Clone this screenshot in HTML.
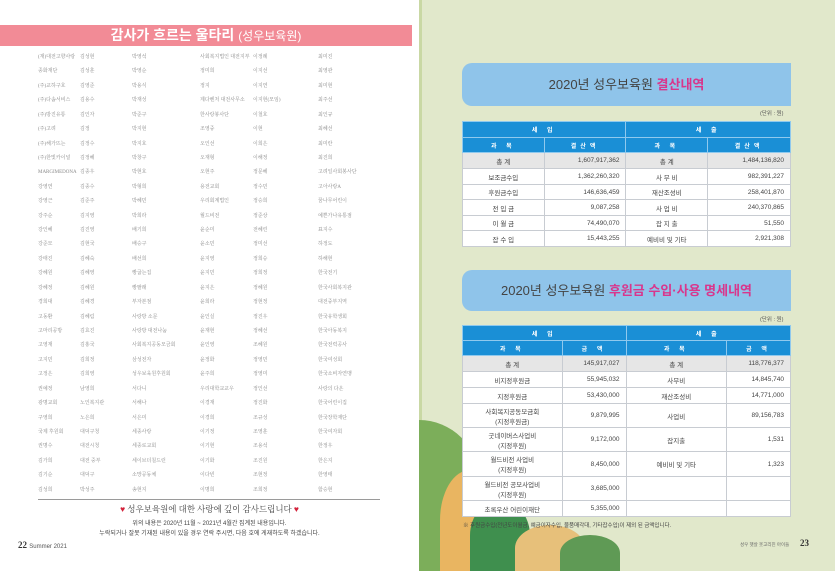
<!DOCTYPE html>
<html><head><meta charset="utf-8"><style>
*{margin:0;padding:0;box-sizing:border-box}
body{width:835px;height:571px;overflow:hidden;position:relative;font-family:"Liberation Sans","Noto Sans CJK KR",sans-serif;background:#fff}
.abs{position:absolute}
#right{left:419px;top:0;width:416px;height:571px;background:#e1e8cb}
.title{position:absolute;left:0;top:25px;width:412px;height:21px;background:#f28b96;color:#fff;text-align:center;font-size:14px;line-height:21px;font-weight:bold}
.title span{font-weight:normal;font-size:12px}
.grid{position:absolute;left:38px;top:51px;width:380px;font-family:"Liberation Serif","Noto Serif CJK SC",serif;font-size:5px;color:#8a8a8a}
.row{height:14.43px;line-height:14.43px;position:relative;white-space:nowrap}
.row span{position:absolute}
.row span:nth-child(1){left:0}.row span:nth-child(2){left:42px}.row span:nth-child(3){left:94px}.row span:nth-child(4){left:162px}.row span:nth-child(5){left:215px}.row span:nth-child(6){left:280px}
.banner{position:absolute;left:462px;width:329px;background:#8fc4ea;border-radius:10px 0 0 10px;color:#444;font-size:13px;text-align:center}
.banner b{color:#d9368c;font-weight:bold}
table{position:absolute;border-collapse:collapse;font-size:6.5px;color:#444;background:#fff}
td{border:1px solid #c8ccd2;padding:0 6px}
th{background:#1a8fd6;color:#fff;font-weight:bold;border:1px solid #8fc9ee;font-size:6px;letter-spacing:4px}
.tot td{background:#e6e6e6}
.n{text-align:right}.c{text-align:center}
</style></head><body>
<div class="title">감사가 흐르는 울타리 <span>(성우보육원)</span></div>
<div class="grid">
<div class="row"><span>(재)대전고향사랑</span><span>김성현</span><span>박영석</span><span>사회복지법인 대전지부</span><span>이정례</span><span>최미진</span></div>
<div class="row"><span>종화재단</span><span>김성훈</span><span>박영순</span><span>정미희</span><span>이지선</span><span>최영관</span></div>
<div class="row"><span>(주)교하구호</span><span>김영준</span><span>박용식</span><span>정지</span><span>이지연</span><span>최미현</span></div>
<div class="row"><span>(주)다솜서비스</span><span>김용수</span><span>박재성</span><span>제다벤처 대전사무소</span><span>이지현(모임)</span><span>최주선</span></div>
<div class="row"><span>(주)방진유통</span><span>김인자</span><span>박준구</span><span>한사랑봉사단</span><span>이철호</span><span>최인규</span></div>
<div class="row"><span>(주)고려</span><span>김정</span><span>박지현</span><span>조영중</span><span>이현</span><span>최혜선</span></div>
<div class="row"><span>(주)해가뜨는</span><span>김정수</span><span>박지호</span><span>오인선</span><span>이희은</span><span>최미란</span></div>
<div class="row"><span>(주)한빛카이널</span><span>김정혜</span><span>박창구</span><span>오재형</span><span>이해정</span><span>최진희</span></div>
<div class="row"><span>MARGIMEDONA</span><span>김종우</span><span>박현호</span><span>오현주</span><span>정문혜</span><span>고려일사회봉사단</span></div>
<div class="row"><span>강영연</span><span>김종수</span><span>박형희</span><span>용전교회</span><span>정수민</span><span>고아사랑A</span></div>
<div class="row"><span>강영근</span><span>김준주</span><span>박혜민</span><span>우리회계법인</span><span>정승희</span><span>꿈나무어린이</span></div>
<div class="row"><span>강주순</span><span>김지영</span><span>박희라</span><span>월드비전</span><span>정준상</span><span>예쁜가나유통점</span></div>
<div class="row"><span>강인혜</span><span>김진영</span><span>배기희</span><span>윤순미</span><span>전혜린</span><span>표지수</span></div>
<div class="row"><span>강준모</span><span>김현국</span><span>배승구</span><span>윤소민</span><span>정미선</span><span>하정도</span></div>
<div class="row"><span>강태진</span><span>김혜숙</span><span>배선희</span><span>윤지영</span><span>정희승</span><span>하해현</span></div>
<div class="row"><span>강혜원</span><span>김혜영</span><span>빵굽는집</span><span>윤지민</span><span>정희정</span><span>한국전기</span></div>
<div class="row"><span>강혜정</span><span>김혜원</span><span>빵팔래</span><span>윤지은</span><span>정혜원</span><span>한국사회복지관</span></div>
<div class="row"><span>경희대</span><span>김혜경</span><span>부자본점</span><span>윤희라</span><span>정현정</span><span>대전중부지역</span></div>
<div class="row"><span>고동환</span><span>김혜림</span><span>사랑방 소문</span><span>윤인실</span><span>정진우</span><span>한국유학생회</span></div>
<div class="row"><span>고마리공방</span><span>김효진</span><span>사랑방 대전나눔</span><span>윤재현</span><span>정혜선</span><span>한국아동복지</span></div>
<div class="row"><span>고영재</span><span>김홍국</span><span>사회복지공동모금회</span><span>윤인영</span><span>조혜원</span><span>한국전력공사</span></div>
<div class="row"><span>고지민</span><span>김희정</span><span>삼성전자</span><span>윤정화</span><span>정영민</span><span>한국여성회</span></div>
<div class="row"><span>고정은</span><span>김희영</span><span>성우보육원후원회</span><span>윤주희</span><span>정영미</span><span>한국소비자연맹</span></div>
<div class="row"><span>권예정</span><span>남영희</span><span>서다니</span><span>우리대학교교우</span><span>정인선</span><span>사랑의 다온</span></div>
<div class="row"><span>광명교회</span><span>노인복지관</span><span>서해나</span><span>이경재</span><span>정진화</span><span>한국어린이집</span></div>
<div class="row"><span>구영희</span><span>노은희</span><span>서은미</span><span>이경희</span><span>조규성</span><span>한국장학재단</span></div>
<div class="row"><span>국제 후원회</span><span>대덕구청</span><span>세종사랑</span><span>이기정</span><span>조영훈</span><span>한국여자회</span></div>
<div class="row"><span>권명수</span><span>대전시청</span><span>세종로교회</span><span>이기현</span><span>조용석</span><span>한정우</span></div>
<div class="row"><span>김가희</span><span>대전 중부</span><span>세이브더칠드런</span><span>이기화</span><span>조진원</span><span>한은지</span></div>
<div class="row"><span>김기순</span><span>대덕구</span><span>소망공동체</span><span>이다빈</span><span>조현정</span><span>한영태</span></div>
<div class="row"><span>김성희</span><span>박성주</span><span>송현지</span><span>이명희</span><span>조희정</span><span>함승현</span></div>
</div>
<div class="abs" style="left:38px;top:499px;width:342px;height:1px;background:#9a9a9a"></div>
<div class="abs" style="left:0;top:503px;width:419px;text-align:center;font-size:8.5px;color:#444;font-family:'Liberation Serif','Noto Serif CJK SC',serif"><span style="color:#d3213a">♥</span> 성우보육원에 대한 사랑에 깊이 감사드립니다 <span style="color:#d3213a">♥</span></div>
<div class="abs" style="left:0;top:518px;width:419px;text-align:center;font-size:6px;color:#444">위의 내용은 2020년 11월 ~ 2021년 4월간 집계된 내용입니다.</div>
<div class="abs" style="left:0;top:528px;width:419px;text-align:center;font-size:6px;color:#444">누락되거나 잘못 기재된 내용이 있을 경우 연락 주시면, 다음 호에 게재하도록 하겠습니다.</div>
<div class="abs" style="left:18px;top:540px;font-size:9px;color:#333;font-family:'Liberation Serif',serif;font-weight:bold">22 <span style="font-family:'Liberation Sans';font-weight:normal;font-size:6px;color:#555">Summer 2021</span></div>

<div id="right" class="abs"></div>
<div class="abs" style="left:419px;top:0;width:3px;height:571px;background:#c9d8a4"></div>
<div class="abs" style="left:419px;top:420px;width:60px;height:151px;background:#7cae5a;border-radius:0 60px 0 0"></div>
<div class="abs" style="left:440px;top:470px;width:60px;height:101px;background:#e9b561;border-radius:50% 50% 0 0"></div>
<div class="abs" style="left:470px;top:500px;width:60px;height:71px;background:#3f8f4e;border-radius:50% 50% 0 0"></div>
<div class="abs" style="left:515px;top:525px;width:70px;height:46px;background:#e7c07a;border-radius:50% 50% 0 0"></div>
<div class="abs" style="left:560px;top:535px;width:60px;height:36px;background:#5f9a55;border-radius:50% 50% 0 0"></div>

<div class="banner" style="top:63px;height:43px;line-height:43px">2020년 성우보육원 <b>결산내역</b></div>
<div class="abs" style="left:760px;top:109px;font-size:5.5px;color:#555">(단위 : 원)</div>
<table style="left:462px;top:121px;width:329px">
<colgroup><col style="width:82px"><col style="width:82px"><col style="width:82px"><col style="width:83px"></colgroup>
<tr style="height:16px"><th colspan="2">세 입</th><th colspan="2">세 출</th></tr>
<tr style="height:15px"><th>과 목</th><th>결산액</th><th>과 목</th><th>결산액</th></tr>
<tr class="tot" style="height:16px"><td class="c">총 계</td><td class="n">1,607,917,362</td><td class="c">총 계</td><td class="n">1,484,136,820</td></tr>
<tr style="height:16px"><td class="c">보조금수입</td><td class="n">1,362,260,320</td><td class="c">사 무 비</td><td class="n">982,391,227</td></tr>
<tr style="height:15px"><td class="c">후원금수입</td><td class="n">146,636,459</td><td class="c">재산조성비</td><td class="n">258,401,870</td></tr>
<tr style="height:16px"><td class="c">전 입 금</td><td class="n">9,087,258</td><td class="c">사 업 비</td><td class="n">240,370,865</td></tr>
<tr style="height:15px"><td class="c">이 월 금</td><td class="n">74,490,070</td><td class="c">잡 지 출</td><td class="n">51,550</td></tr>
<tr style="height:16px"><td class="c">잡 수 입</td><td class="n">15,443,255</td><td class="c">예비비 및 기타</td><td class="n">2,921,308</td></tr>
</table>

<div class="banner" style="top:270px;height:41px;line-height:41px">2020년 성우보육원 <b>후원금 수입·사용 명세내역</b></div>
<div class="abs" style="left:760px;top:315px;font-size:5.5px;color:#555">(단위 : 원)</div>
<table style="left:462px;top:325px;width:329px">
<colgroup><col style="width:100px"><col style="width:64px"><col style="width:101px"><col style="width:64px"></colgroup>
<tr style="height:15px"><th colspan="2">세 입</th><th colspan="2">세 출</th></tr>
<tr style="height:15px"><th>과 목</th><th>금 액</th><th>과 목</th><th>금 액</th></tr>
<tr class="tot" style="height:16px"><td class="c">총 계</td><td class="n">145,917,027</td><td class="c">총 계</td><td class="n">118,776,377</td></tr>
<tr style="height:16px"><td class="c">비지정후원금</td><td class="n">55,945,032</td><td class="c">사무비</td><td class="n">14,845,740</td></tr>
<tr style="height:16px"><td class="c">지정후원금</td><td class="n">53,430,000</td><td class="c">재산조성비</td><td class="n">14,771,000</td></tr>
<tr style="height:24px"><td class="c">사회복지공동모금회<br>(지정후원금)</td><td class="n">9,879,995</td><td class="c">사업비</td><td class="n">89,156,783</td></tr>
<tr style="height:24px"><td class="c">굿네이버스사업비<br>(지정후원)</td><td class="n">9,172,000</td><td class="c">잡지출</td><td class="n">1,531</td></tr>
<tr style="height:25px"><td class="c">월드비전 사업비<br>(지정후원)</td><td class="n">8,450,000</td><td class="c">예비비 및 기타</td><td class="n">1,323</td></tr>
<tr style="height:24px"><td class="c">월드비전 공모사업비<br>(지정후원)</td><td class="n">3,685,000</td><td></td><td></td></tr>
<tr style="height:16px"><td class="c">초록우산 어린이재단</td><td class="n">5,355,000</td><td></td><td></td></tr>
</table>
<div class="abs" style="left:463px;top:521px;font-size:5.5px;color:#444">※ 후원금수입(전년도이월금, 예금이자수입, 물품매각대, 기타잡수입)이 제외 된 금액입니다.</div>
<div class="abs" style="left:740px;top:542px;font-size:4.5px;color:#666">성우 햇살 웃고리진 아이들</div>
<div class="abs" style="left:800px;top:538px;font-size:9px;color:#333;font-family:'Liberation Serif',serif;font-weight:bold">23</div>
</body></html>
